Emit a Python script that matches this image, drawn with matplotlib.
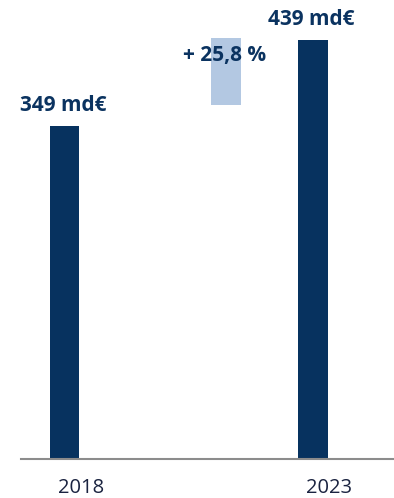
import matplotlib
matplotlib.use("Agg")
import matplotlib.pyplot as plt
import matplotlib.transforms as mtransforms

# Data
years = ["2018", "2023"]
values = [349, 439]
value_labels = ["349 md€", "439 md€"]
growth_label = "+ 25,8 %"
growth_bar = (371, 441)   # bottom, top of the pale "growth" bar

dark = "#07325f"
light = "#b3c8e2"
text_col = "#0b3360"

plt.rcParams["font.family"] = ["Open Sans", "DejaVu Sans"]

fig = plt.figure(figsize=(3.94, 4.98), dpi=100)
ax = fig.add_axes([21 / 394, 39 / 498, 373 / 394, 459 / 498])

# x positions: two main bars and the pale bar in between
xpos = [0, 1]
xgrowth = 0.65
width = 0.119

ax.bar(xpos, values, width=width, color=dark)
ax.bar([xgrowth], [growth_bar[1] - growth_bar[0]], bottom=growth_bar[0],
       width=width, color=light)

# Value labels above the bars
for x, v, lab in zip(xpos, values, value_labels):
    ax.annotate(lab, (x, v), xytext=(-1, 11), textcoords="offset points",
                ha="center", va="baseline", fontsize=15, fontweight="bold",
                color=text_col)

ax.text(xgrowth - 0.005, 417, growth_label, ha="center", va="baseline",
        fontsize=15, fontweight="bold", color=text_col)

# Year labels below the axis, slightly to the right of each bar
trans = mtransforms.blended_transform_factory(ax.transData, ax.transAxes)
for x, yr in zip(xpos, years):
    ax.text(x + 0.065, -0.075, yr, transform=trans, ha="center", va="baseline",
            fontsize=14.5, color="#1a2340")

ax.set_xlim(-0.175, 1.326)
ax.set_ylim(0, 481)

for side in ["top", "left", "right"]:
    ax.spines[side].set_visible(False)
ax.spines["bottom"].set_color("#8c8c8c")
ax.spines["bottom"].set_linewidth(1.5)
ax.set_xticks([])
ax.set_yticks([])
ax.patch.set_alpha(0)

plt.savefig("out.png", dpi=100)
